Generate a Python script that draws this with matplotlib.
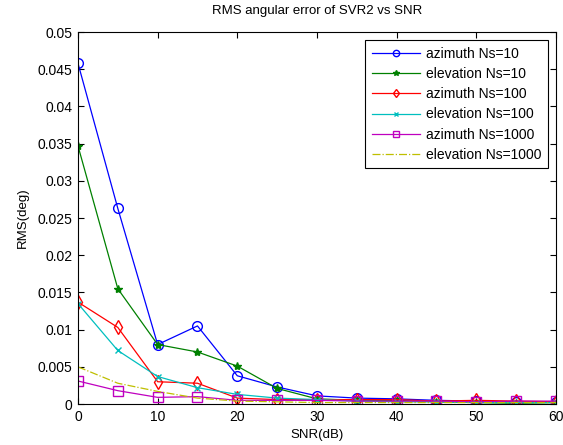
import matplotlib
matplotlib.use("Agg")
import matplotlib.pyplot as plt

snr = [0, 5, 10, 15, 20, 25, 30, 35, 40, 45, 50, 55, 60]

az_10 = [0.0458, 0.0263, 0.0080, 0.0105, 0.0038, 0.0023, 0.0011, 0.0008, 0.0007, 0.0005, 0.0004, 0.0003, 0.0003]
el_10 = [0.0347, 0.0155, 0.0080, 0.0070, 0.0051, 0.0021, 0.0007, 0.0005, 0.0005, 0.0003, 0.0002, 0.0001, 0.0002]
az_100 = [0.0137, 0.0103, 0.0030, 0.0028, 0.0008, 0.0006, 0.0006, 0.0006, 0.0006, 0.0004, 0.0005, 0.0004, 0.0003]
el_100 = [0.0135, 0.0072, 0.0037, 0.0022, 0.0013, 0.0008, 0.0006, 0.0004, 0.0003, 0.0003, 0.0002, 0.0002, 0.0002]
az_1000 = [0.0031, 0.0018, 0.0009, 0.0010, 0.0005, 0.0005, 0.0005, 0.0004, 0.0004, 0.0004, 0.0003, 0.0004, 0.0004]
el_1000 = [0.0050, 0.0028, 0.0017, 0.0008, 0.0004, 0.0003, 0.0002, 0.0002, 0.0002, 0.0002, 0.0002, 0.0002, 0.0002]

labels = ["azimuth Ns=10", "elevation Ns=10", "azimuth Ns=100",
          "elevation Ns=100", "azimuth Ns=1000", "elevation Ns=1000"]

plt.rcParams['font.family'] = ['Liberation Sans', 'DejaVu Sans']

fig = plt.figure(figsize=(5.63, 4.45), dpi=100)
ax = fig.add_axes([0.1385, 0.092, 0.849, 0.836])

lw = 0.9
ax.plot(snr, az_10, color='#0000ff', marker='o', mfc='none', ms=7, lw=lw, label=labels[0])
ax.plot(snr, el_10, color='#008000', marker='*', ms=6, lw=lw, label=labels[1])
ax.plot(snr, az_100, color='#ff0000', marker='d', mfc='none', ms=7, lw=lw, label=labels[2])
ax.plot(snr, el_100, color='#00bfbf', marker='x', ms=5, lw=lw, label=labels[3])
ax.plot(snr, az_1000, color='#bf00bf', marker='s', mfc='none', ms=7, lw=lw, label=labels[4])
ax.plot(snr, el_1000, color='#bfbf00', ls='-.', lw=lw, label=labels[5])

ax.set_xlim(0, 60)
ax.set_ylim(0, 0.05)
ax.set_xticks(range(0, 61, 10))
ax.set_yticks([i * 0.005 for i in range(11)])
ax.set_yticklabels(['0', '0.005', '0.01', '0.015', '0.02', '0.025', '0.03',
                    '0.035', '0.04', '0.045', '0.05'])
ax.tick_params(direction='in', labelsize=10, top=True, right=True, length=4, pad=4)
ax.set_xlabel('SNR(dB)', fontsize=9.5, labelpad=4)
ax.set_ylabel('RMS(deg)', fontsize=9.5, labelpad=6)
ax.set_title('RMS angular error of SVR2 vs SNR', fontsize=9.5, pad=13)

leg = ax.legend(loc='upper right', fontsize=10, fancybox=False, edgecolor='black',
                framealpha=1, borderaxespad=0.6, handlelength=3.5, handletextpad=0.4,
                labelspacing=0.45, markerscale=0.65, borderpad=0.45)
leg.get_frame().set_linewidth(0.8)

fig.savefig('out.png', dpi=100)
